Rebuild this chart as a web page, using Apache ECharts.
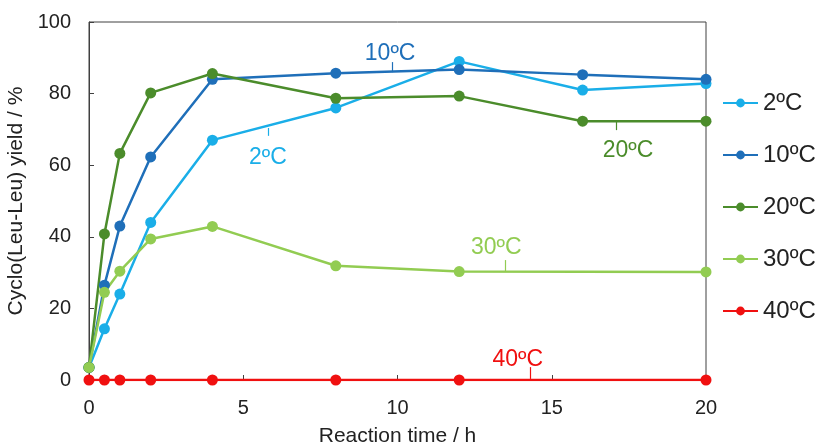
<!DOCTYPE html>
<html>
<head>
<meta charset="utf-8">
<script src="https://cdn.jsdelivr.net/npm/echarts@6/dist/echarts.min.js"></script>
<style>
  html, body { margin: 0; padding: 0; background: #fff; }
  #grafiek { width: 816px; height: 445px; }
</style>
</head>
<body>
<div id="grafiek"></div>
<script>
// reaction times (h)
const tijdenVol = [0, 0.5, 1, 2, 4, 8, 12, 16, 20];
const tijdenKort = [0, 0.5, 1, 2, 4, 8, 12, 20];

// yields (%) per temperature
const namen = ['2ºC', '10ºC', '20ºC', '30ºC', '40ºC'];
const opbrengst2 = [3.5, 14.3, 24, 44, 67, 76, 89, 81, 82.8];
const opbrengst10 = [3.5, 26.5, 43, 62.3, 84, 85.7, 86.7, 85.3, 84];
const opbrengst20 = [3.5, 40.8, 63.3, 80.2, 85.6, 78.7, 79.3, 72.3, 72.3];
const opbrengst30 = [3.5, 24.5, 30.4, 39.4, 42.9, 31.9, 30.3, 30.2];
const opbrengst40 = [0, 0, 0, 0, 0, 0, 0, 0];

const kleuren = ['#1aaee8', '#1f6fb9', '#4b8c2b', '#92cc52', '#f01010'];

// annotation labels: [text position x, y], leader line [x, y1, y2]
const labelTekst = [[5.8, 62.0], [9.76, 91.2], [17.47, 64.0], [13.2, 36.9], [13.9, 5.8]];
const labelLijn = [[5.8, 70.4, 68.2], [9.82, 88.8, 86.0], [17.08, 72.4, 69.8], [13.5, 33.5, 30.2], [14.3, 3.6, 0.3]];

function koppel(tijden, waarden) {
    return tijden.map((t, i) => [t, waarden[i]]);
}

const reeksen = [
    koppel(tijdenVol, opbrengst2),
    koppel(tijdenVol, opbrengst10),
    koppel(tijdenVol, opbrengst20),
    koppel(tijdenKort, opbrengst30),
    koppel(tijdenKort, opbrengst40)
];

const lettertype = '"Liberation Sans", Arial, sans-serif';

function toonGrafiek() {
    let grafiek = echarts.init(document.getElementById('grafiek'));
    let series = reeksen.map((data, i) => ({
        name: namen[i],
        type: 'line',
        data: data,
        symbol: 'circle',
        symbolSize: 11,
        color: kleuren[i],
        lineStyle: { width: 2.5, color: kleuren[i] },
        itemStyle: { color: kleuren[i] },
        animation: false,
        markPoint: {
            symbol: 'circle',
            symbolSize: 0,
            silent: true,
            data: [{
                coord: labelTekst[i],
                label: {
                    show: true,
                    position: 'inside',
                    formatter: namen[i],
                    color: kleuren[i],
                    fontFamily: lettertype,
                    fontSize: 23
                }
            }]
        },
        markLine: {
            symbol: 'none',
            silent: true,
            label: { show: false },
            lineStyle: { type: 'solid', width: 1.2, color: kleuren[i] },
            data: [[
                { coord: [labelLijn[i][0], labelLijn[i][1]] },
                { coord: [labelLijn[i][0], labelLijn[i][2]] }
            ]]
        }
    }));

    let option = {
        backgroundColor: '#ffffff',
        textStyle: { fontFamily: lettertype },
        grid: {
            left: 89,
            right: 110,
            top: 22,
            bottom: 65,
            outerBoundsMode: 'none',
            containLabel: false,
            show: true,
            borderColor: '#404040',
            borderWidth: 1
        },
        legend: {
            orient: 'vertical',
            left: 717,
            top: 86,
            itemWidth: 35,
            itemHeight: 11,
            itemGap: 28,
            data: namen,
            textStyle: { fontSize: 24, color: '#222', fontFamily: lettertype }
        },
        xAxis: {
            type: 'value',
            min: 0,
            max: 20,
            interval: 5,
            name: 'Reaction time / h',
            nameLocation: 'middle',
            nameGap: 46,
            nameTextStyle: { fontSize: 21, color: '#222', fontFamily: lettertype },
            axisLine: { lineStyle: { color: '#404040', width: 1 } },
            axisTick: { inside: true, length: 5, lineStyle: { color: '#404040' } },
            axisLabel: { fontSize: 20, color: '#222', margin: 18, fontFamily: lettertype },
            splitLine: { show: false }
        },
        yAxis: {
            type: 'value',
            min: 0,
            max: 100,
            interval: 20,
            name: 'Cyclo(Leu-Leu) yield / %',
            nameLocation: 'middle',
            nameGap: 61,
            nameTextStyle: { fontSize: 21, color: '#222', fontFamily: lettertype },
            axisLine: { show: true, lineStyle: { color: '#404040', width: 1 } },
            axisTick: { show: true, inside: true, length: 5, lineStyle: { color: '#404040' } },
            axisLabel: { fontSize: 20, color: '#222', margin: 18, fontFamily: lettertype },
            splitLine: { show: false }
        },
        series: series
    };
    grafiek.setOption(option);
}

window.onload = function () {
    if (document.getElementById('grafiek')) {
        toonGrafiek();
    } else {
        console.error("Element #grafiek niet gevonden!");
    }
};
</script>
</body>
</html>
